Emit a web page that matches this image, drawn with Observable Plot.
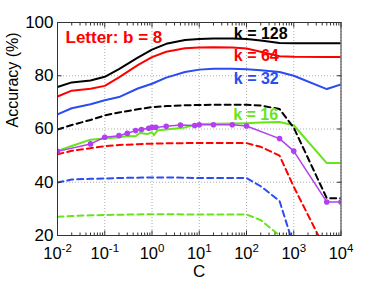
<!DOCTYPE html>
<html>
<head>
<meta charset="utf-8">
<script src="https://cdn.jsdelivr.net/npm/d3@7"></script>
<script src="https://cdn.jsdelivr.net/npm/@observablehq/plot@0.6"></script>
<style>
  html, body { margin: 0; padding: 0; background: #fff; }
  svg { display: block; }
</style>
</head>
<body>
<div id="chart"></div>
<script>
// ---- data ----
const C = [0.01, 0.02, 0.05, 0.1, 0.2, 0.5, 1, 2, 5, 10, 20, 50, 100, 200, 500, 1000, 5000, 10000];
const k128Solid = [75.8, 77.5, 78.2, 79.6, 82.5, 86.8, 89.8, 92.0, 93.4, 93.8, 94.0, 94.0, 93.8, 93.2, 92.3, 92.2, 92.2, 92.2];
const k64Solid  = [72.2, 74.4, 75.1, 76.2, 79.4, 84.0, 87.0, 89.0, 90.3, 90.6, 90.7, 90.6, 90.2, 89.0, 87.3, 87.1, 87.0, 87.0];
const k32Solid  = [65.5, 67.8, 69.3, 70.8, 72.0, 75.2, 77.0, 79.3, 81.4, 82.3, 82.6, 82.6, 82.4, 82.1, 81.4, 80.0, 75.0, 76.7];
const k128Dashed = [59.8, 61.5, 63.4, 65.1, 66.2, 67.4, 68.2, 68.6, 68.9, 69.0, 69.1, 69.1, 69.1, 68.8, 67.5, 60.5, 34.0, 34.0];
const k64Dashed  = [50.5, 51.8, 52.8, 53.5, 54.0, 54.3, 54.5, 54.6, 54.7, 54.7, 54.7, 54.7, 54.7, 53.3, 50.0, 38.3, 13.7, 13.7];
const k32Dashed  = [39.9, 41.0, 41.3, 41.4, 41.6, 41.7, 41.8, 41.8, 41.7, 41.6, 41.6, 41.6, 41.6, 38.5, 33.0, 16.0, 10.0, 10.0];
const k16Dashed  = [27.0, 27.3, 27.6, 27.7, 27.8, 27.9, 28.0, 28.0, 27.9, 27.9, 27.9, 27.9, 27.9, 25.8, 20.0, 10.0, 10.0, 10.0];

const C16 = [0.01, 0.02, 0.05, 0.1, 0.2, 0.3, 0.45, 0.55, 0.8, 1, 1.1, 1.3, 2.5, 5, 10, 20, 50, 100, 200, 500, 1000, 5000, 10000];
const k16Solid = [51.8, 53.6, 56.0, 56.4, 56.9, 57.4, 57.3, 58.5, 58.1, 58.8, 57.7, 59.4, 60.0, 60.6, 61.9, 62.0, 62.1, 62.2, 62.4, 62.6, 61.4, 47.2, 47.2];

const Cp = [0.01, 0.05, 0.1, 0.2, 0.3, 0.45, 0.6, 0.85, 1, 1.2, 2, 4, 8, 10, 20, 50, 100, 500, 1000, 5000, 10000];
const purple = [51.6, 54.4, 56.9, 57.5, 58.4, 59.4, 59.8, 60.3, 60.6, 60.6, 61.0, 61.5, 61.3, 61.6, 61.6, 61.6, 61.1, 56.4, 51.7, 32.6, 32.6];

const xMajorTicks = [1e-2, 1e-1, 1e0, 1e1, 1e2, 1e3, 1e4];
const yTicks = [20, 40, 60, 80, 100];
const title = "Letter: b = 8";
const kLabels = ["k = 128", "k = 64", "k = 32", "k = 16"];
const xLabel = "C";
const yLabel = "Accuracy (%)";

// ---- helpers ----
const zip = (xs, ys) => xs.map((x, i) => ({C: x, acc: ys[i]}));
const xMinorTicks = [];
for (let e = -2; e < 4; e++) for (let m = 2; m <= 9; m++) xMinorTicks.push(m * Math.pow(10, e));

const BLACK = "#000000", RED = "#ff0000", BLUE = "#2b4cf0", GREEN = "#66e61a", PURPLE = "#b040f0";
const series = [
  {d: k128Solid, c: BLACK, dash: null, xs: C},
  {d: k64Solid, c: RED, dash: null, xs: C},
  {d: k32Solid, c: BLUE, dash: null, xs: C},
  {d: k16Solid, c: GREEN, dash: null, xs: C16},
  {d: k128Dashed, c: BLACK, dash: "6,4", xs: C},
  {d: k64Dashed, c: RED, dash: "6,4", xs: C},
  {d: k32Dashed, c: BLUE, dash: "6,4", xs: C},
  {d: k16Dashed, c: GREEN, dash: "6,4", xs: C}
];

const font = "Liberation Sans, Arial, Helvetica, sans-serif";
const ann = (txt, dx, dy, size, color) => Plot.text([txt], {
  frameAnchor: "top-left", textAnchor: "start", lineAnchor: "middle",
  dx, dy, fontSize: size, fontWeight: "bold", fill: color
});

const marks = [
  Plot.gridX({ticks: xMajorTicks, stroke: "#999", strokeOpacity: 1, strokeWidth: 0.8, strokeDasharray: "1,2"}),
  Plot.gridY({ticks: yTicks, stroke: "#999", strokeOpacity: 1, strokeWidth: 0.8, strokeDasharray: "1,2"}),
  ...series.map(s => Plot.line(zip(s.xs, s.d), {
    x: "C", y: "acc", stroke: s.c, strokeWidth: 2, strokeDasharray: s.dash, clip: true
  })),
  Plot.line(zip(Cp, purple), {x: "C", y: "acc", stroke: PURPLE, strokeWidth: 1.5, clip: true}),
  Plot.dot(zip(Cp, purple), {x: "C", y: "acc", fill: PURPLE, r: 2.8, clip: true}),
  Plot.frame({stroke: "#333", strokeWidth: 1}),
  // inward ticks
  Plot.axisX({anchor: "bottom", ticks: xMajorTicks, tickSize: -4.5, text: null, label: null, stroke: "#333"}),
  Plot.axisX({anchor: "top", ticks: xMajorTicks, tickSize: -4.5, text: null, label: null, stroke: "#333"}),
  Plot.axisX({anchor: "bottom", ticks: xMinorTicks, tickSize: -2.5, text: null, label: null, stroke: "#333"}),
  Plot.axisX({anchor: "top", ticks: xMinorTicks, tickSize: -2.5, text: null, label: null, stroke: "#333"}),
  Plot.axisY({anchor: "left", ticks: yTicks, tickSize: -4.5, text: null, label: null, stroke: "#333"}),
  Plot.axisY({anchor: "right", ticks: yTicks, tickSize: -4.5, text: null, label: null, stroke: "#333"}),
  // tick labels
  Plot.axisX({anchor: "bottom", ticks: xMajorTicks, tickSize: 0, tickPadding: 12, fontSize: 16.5, fill: "#000",
    tickFormat: d => "10^" + Math.round(Math.log10(d)), label: null}),
  Plot.axisY({anchor: "left", ticks: yTicks, tickSize: 0, tickPadding: 4, fontSize: 17, fill: "#000", label: null}),
  // axis titles
  Plot.text([xLabel], {frameAnchor: "bottom", lineAnchor: "middle", dy: 36, fontSize: 17, fill: "#000"}),
  Plot.text([yLabel], {frameAnchor: "left", lineAnchor: "middle", dx: -44.5, dy: -1.5, rotate: -90, fontSize: 16, fill: "#000"}),
  // annotations
  ann(title, 8, 14.9, 17, RED),
  ann(kLabels[0], 176.3, 11.2, 16, BLACK),
  ann(kLabels[1], 176.3, 32.9, 16, RED),
  ann(kLabels[2], 176.3, 56.2, 16, BLUE),
  ann(kLabels[3], 175.7, 92.2, 16, GREEN)
];

const svg = Plot.plot({
  width: 374,
  height: 281,
  marginLeft: 57,
  marginRight: 33.5,
  marginTop: 22,
  marginBottom: 46,
  x: {type: "log", domain: [1e-2, 1e4]},
  y: {domain: [20, 100]},
  style: {fontFamily: font, background: "#fff", color: "#000"},
  marks
});

// superscript exponents on x tick labels
const NS = "http://www.w3.org/2000/svg";
svg.querySelectorAll('g[aria-label="x-axis tick label"] text').forEach(t => {
  const s = t.textContent;
  const parts = s.split("^");
  if (parts.length !== 2) return;
  t.textContent = "";
  const b = document.createElementNS(NS, "tspan");
  b.textContent = parts[0];
  const e = document.createElementNS(NS, "tspan");
  e.setAttribute("dy", "-7.5");
  e.setAttribute("font-size", "11.5");
  e.textContent = parts[1];
  t.appendChild(b);
  t.appendChild(e);
});

document.getElementById("chart").appendChild(svg);
</script>
</body>
</html>
